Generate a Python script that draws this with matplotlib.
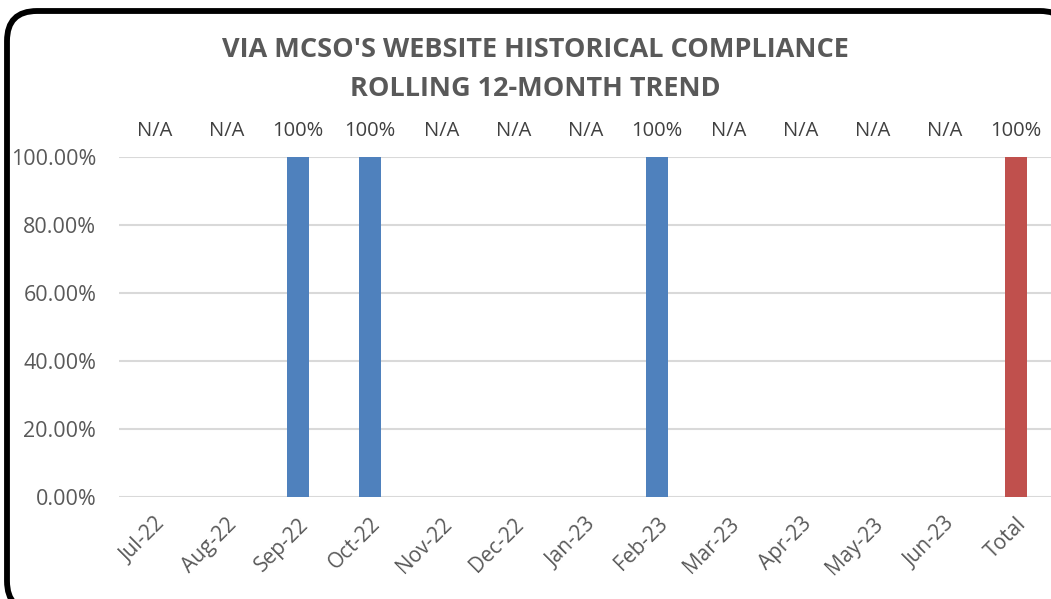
import numpy as np
import matplotlib.pyplot as plt
from matplotlib.patches import FancyBboxPatch

# Data
categories = ['Jul-22', 'Aug-22', 'Sep-22', 'Oct-22', 'Nov-22', 'Dec-22', 'Jan-23',
              'Feb-23', 'Mar-23', 'Apr-23', 'May-23', 'Jun-23', 'Total']
values = [0, 0, 1.0, 1.0, 0, 0, 0, 1.0, 0, 0, 0, 0, 1.0]
top_labels = ['N/A', 'N/A', '100%', '100%', 'N/A', 'N/A', 'N/A', '100%',
              'N/A', 'N/A', 'N/A', 'N/A', '100%']
yticks = [0, 0.2, 0.4, 0.6, 0.8, 1.0]
ytick_labels = ['0.00%', '20.00%', '40.00%', '60.00%', '80.00%', '100.00%']

plt.rcParams['font.family'] = ['Open Sans', 'DejaVu Sans']

W, H = 1051, 599
fig = plt.figure(figsize=(W / 100, H / 100), dpi=100)

# Plot area in pixel coordinates
left, right, top, bottom = 118.5, 1052, 157, 497
ax = fig.add_axes([left / W, 1 - bottom / H, (right - left) / W, (bottom - top) / H])

x = np.arange(len(categories))
colors = ['#4F81BD'] * 12 + ['#C0504D']
ax.bar(x, values, width=0.31, color=colors, zorder=3)

ax.set_xlim(-0.5, len(categories) - 0.5)
ax.set_ylim(0, 1.0)
ax.set_yticks(yticks)
ax.set_yticklabels(ytick_labels, fontsize=15.5, color='#595959')
ax.set_xticks(x)
ax.set_xticklabels(categories, rotation=45, ha='right', rotation_mode='anchor',
                   fontsize=15, color='#595959')
ax.tick_params(axis='both', length=0)
ax.tick_params(axis='y', pad=16)
ax.tick_params(axis='x', pad=12)
ax.grid(axis='y', color='#D9D9D9', linewidth=1.5, zorder=0)
for s in ax.spines.values():
    s.set_visible(False)

# labels above plot
for xi, lab in zip(x, top_labels):
    ax.text(xi, 1.0 + 26 / (bottom - top), lab, ha='center', va='center',
            fontsize=14.5, color='#404040', transform=ax.get_xaxis_transform())

fig.text(535 / W, 1 - 50 / H, "VIA MCSO'S WEBSITE HISTORICAL COMPLIANCE",
         ha='center', va='center', fontsize=19.5, fontweight='bold', color='#595959')
fig.text(535 / W, 1 - 89 / H, "ROLLING 12-MONTH TREND",
         ha='center', va='center', fontsize=19.5, fontweight='bold', color='#595959')

# rounded frame, partly cut off at right and bottom like the source
# (near-transparent face stops agg from clipping the outline onto the canvas edge)
frame = FancyBboxPatch((7 / W, -12 / H), (1070 - 7) / W, (588 + 12) / H,
                       boxstyle='round,pad=0,rounding_size=%f' % (30 / W),
                       mutation_aspect=W / H, transform=fig.transFigure,
                       facecolor=(1, 1, 1, 0.001), edgecolor='black',
                       linewidth=4.2, clip_on=False)
fig.patches.append(frame)

fig.savefig('out.png', dpi=100)
